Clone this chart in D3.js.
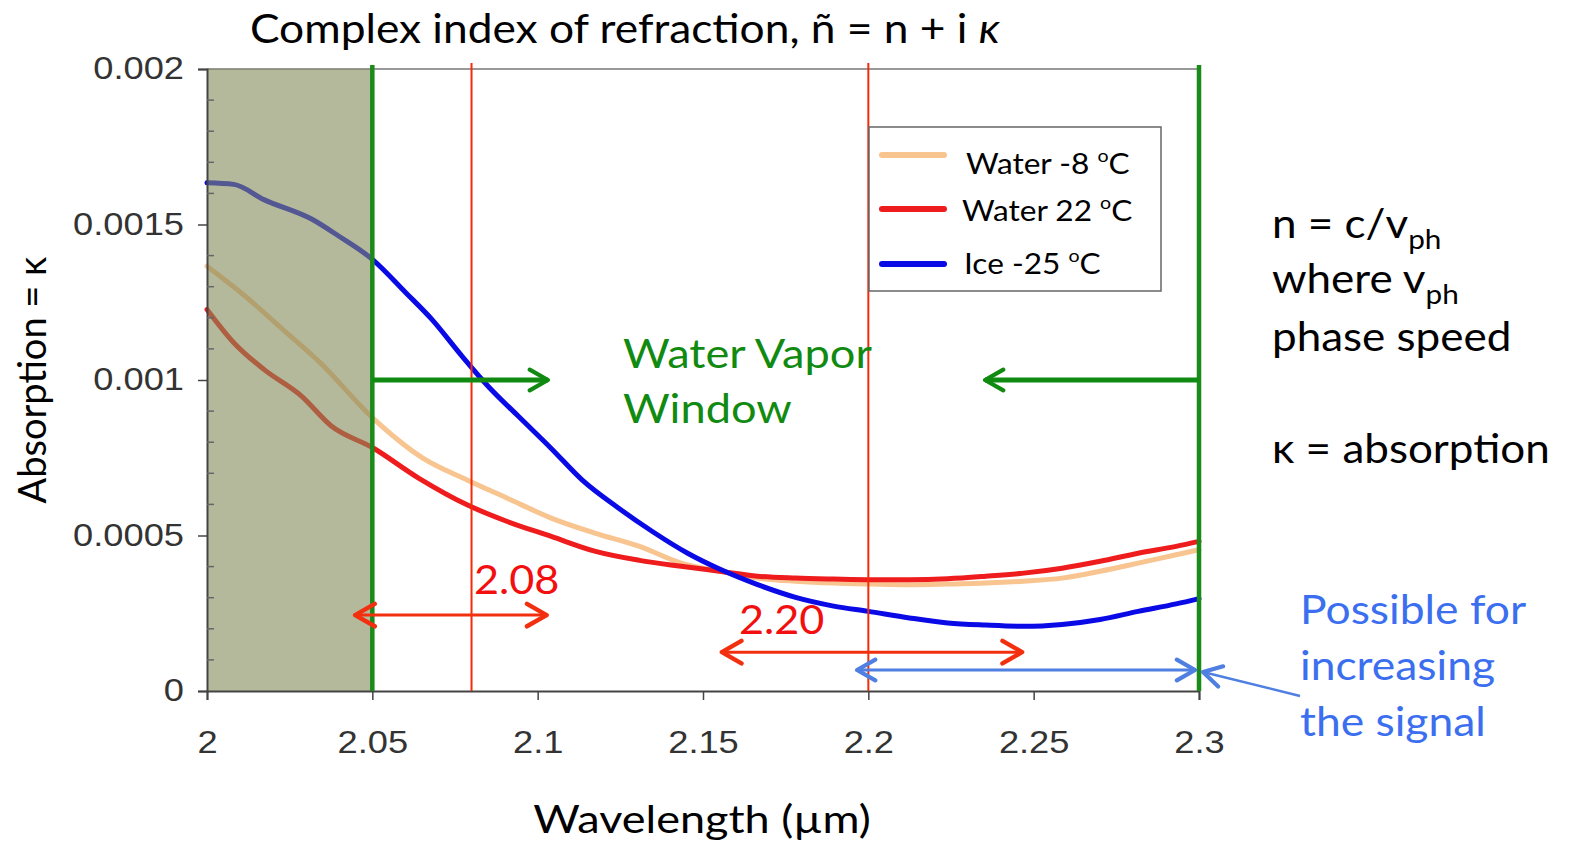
<!DOCTYPE html>
<html>
<head>
<meta charset="utf-8">
<script src="https://cdn.jsdelivr.net/npm/d3@7"></script>
<style>
  body { margin: 0; background: #fff; }
  svg { display: block; }
  .lato { font-family: Lato, "Open Sans", sans-serif; }
</style>
</head>
<body>
<svg id="chart" width="1580" height="849"></svg>
<script>
// Dados (comprimento de onda em µm, absorção κ)
const water8 = [
  [2.000, 0.001366], [2.0115, 0.00127], [2.0229, 0.001163], [2.0342, 0.001056],
  [2.050, 0.000879], [2.0654, 0.000748], [2.0788, 0.000678], [2.0908, 0.00062],
  [2.1041, 0.000556], [2.1175, 0.000507], [2.1308, 0.000465], [2.1434, 0.000411],
  [2.155, 0.000385], [2.1665, 0.000363], [2.178, 0.000353], [2.1895, 0.000347],
  [2.201, 0.000344], [2.2124, 0.000342], [2.224, 0.000344], [2.2355, 0.000347],
  [2.247, 0.000353], [2.2586, 0.000363], [2.2701, 0.000385], [2.2816, 0.000411],
  [2.2931, 0.000438], [2.300, 0.000454]
];
const water22 = [
  [2.000, 0.001227], [2.0081, 0.00112], [2.0172, 0.001034], [2.0285, 0.000949],
  [2.0376, 0.000852], [2.050, 0.000783], [2.0641, 0.000684], [2.0788, 0.000598],
  [2.0908, 0.000545], [2.1041, 0.000497], [2.1175, 0.000449], [2.1308, 0.000420],
  [2.1434, 0.000401], [2.155, 0.000385], [2.1665, 0.000369], [2.178, 0.000363],
  [2.1895, 0.00036], [2.201, 0.000358], [2.2124, 0.000358], [2.224, 0.000361],
  [2.2355, 0.000369], [2.247, 0.000379], [2.2586, 0.000395], [2.2701, 0.000417],
  [2.2816, 0.000443], [2.2931, 0.000465], [2.300, 0.000481]
];
const ice25 = [
  [2.000, 0.001634], [2.0081, 0.001629], [2.0172, 0.00158], [2.0319, 0.001516],
  [2.0398, 0.001463], [2.050, 0.001388], [2.0602, 0.00128], [2.068, 0.001195],
  [2.0771, 0.001077], [2.085, 0.00098], [2.0941, 0.000884], [2.1041, 0.00078],
  [2.1135, 0.000678], [2.1242, 0.000590], [2.1348, 0.000512], [2.1455, 0.000442],
  [2.155, 0.000392], [2.1665, 0.000342], [2.178, 0.000301], [2.1895, 0.000273],
  [2.200, 0.000256], [2.2124, 0.000235], [2.224, 0.000219], [2.2355, 0.000212],
  [2.247, 0.000208], [2.2586, 0.000214], [2.2701, 0.00023], [2.2816, 0.000256],
  [2.2931, 0.00028], [2.300, 0.000297]
];

const seriesNames = ['Water -8 ', 'Water 22 ', 'Ice -25 '];
const seriesColors = ['#f8c490', '#ee1c1c', '#0a0ae6'];
const seriesData = [water8, water22, ice25];

const xTicks = [2, 2.05, 2.1, 2.15, 2.2, 2.25, 2.3];
const xTickLabels = ['2', '2.05', '2.1', '2.15', '2.2', '2.25', '2.3'];
const yTicks = [0, 0.0005, 0.001, 0.0015, 0.002];
const yTickLabels = ['0', '0.0005', '0.001', '0.0015', '0.002'];

// Linhas verticais e setas (em unidades dos dados)
const greenLines = [2.05, 2.3];
const redLines = [2.08, 2.2];
const redArrows = [
  { x1: 2.0448, x2: 2.1027, y: 0.000244 },
  { x1: 2.1557, x2: 2.2465, y: 0.000125 }
];
const blueArrow = { x1: 2.1966, x2: 2.2988, y: 0.0000675 };
const greenArrows = [
  { x1: 2.05, x2: 2.1031, y: 0.001 },
  { x1: 2.3, x2: 2.2353, y: 0.001 }
];

const svg = d3.select('#chart');
const x = d3.scaleLinear().domain([2, 2.3]).range([207, 1199]);
const y = d3.scaleLinear().domain([0, 0.002]).range([691, 69]);

// Estica o texto na horizontal em torno do ponto de ancoragem
function estica(sel, s, ax) {
  sel.attr('transform', `translate(${ax},0) scale(${s},1) translate(${-ax},0)`);
}

// Marcadores de seta
const defs = svg.append('defs');
function marcador(id, cor, tam) {
  defs.append('marker')
    .attr('id', id)
    .attr('viewBox', '0 0 10 10')
    .attr('refX', 9).attr('refY', 5)
    .attr('markerUnits', 'userSpaceOnUse')
    .attr('markerWidth', tam).attr('markerHeight', tam)
    .attr('orient', 'auto-start-reverse')
    .append('path')
    .attr('d', 'M2,1 L9,5 L2,9')
    .attr('fill', 'none')
    .attr('stroke', cor)
    .attr('stroke-width', 1.6)
    .attr('stroke-linecap', 'round')
    .attr('stroke-linejoin', 'round');
}
marcador('seta-verde', '#118a11', 26);
marcador('seta-vermelha', '#f2300f', 28);
marcador('seta-azul', '#4f7fe0', 26);

// Linha superior do quadro
svg.append('line')
  .attr('x1', x(2)).attr('x2', x(2.3))
  .attr('y1', y(0.002)).attr('y2', y(0.002))
  .attr('stroke', '#999').attr('stroke-width', 2);

// Curvas
const linha = d3.line()
  .x(d => x(d[0]))
  .y(d => y(d[1]))
  .curve(d3.curveMonotoneX);

seriesData.forEach((s, i) => {
  svg.append('path')
    .datum(s)
    .attr('d', linha)
    .attr('fill', 'none')
    .attr('stroke', seriesColors[i])
    .attr('stroke-width', 5)
    .attr('stroke-linecap', 'round');
});

// Região sombreada 2.0 - 2.05
svg.append('rect')
  .attr('x', x(2)).attr('y', y(0.002))
  .attr('width', x(2.05) - x(2))
  .attr('height', y(0) - y(0.002))
  .attr('fill', '#848a5a')
  .attr('fill-opacity', 0.6);

// Eixo Y
const yAxis = d3.axisLeft(y).tickValues(yTicks)
  .tickFormat((d, i) => yTickLabels[i]).tickSize(9).tickPadding(14);
const gy = svg.append('g').attr('transform', `translate(${x(2)},0)`).call(yAxis);
gy.select('.domain').attr('stroke', '#444').attr('stroke-width', 2);
gy.selectAll('.tick line').attr('stroke', '#444').attr('stroke-width', 1.5);
gy.selectAll('.tick text')
  .attr('font-family', '"Liberation Sans", Arial, sans-serif')
  .attr('font-size', 31).attr('fill', '#333')
  .call(estica, 1.17, -23);

// Marcas menores do eixo Y
const minor = d3.range(1, 20).filter(k => k % 5 !== 0).map(k => k * 0.0001);
svg.append('g').selectAll('line').data(minor).enter().append('line')
  .attr('x1', x(2)).attr('x2', x(2) + 7)
  .attr('y1', d => y(d)).attr('y2', d => y(d))
  .attr('stroke', '#666').attr('stroke-width', 1.5);

// Eixo X
const xAxis = d3.axisBottom(x).tickValues(xTicks)
  .tickFormat((d, i) => xTickLabels[i]).tickSize(9).tickPadding(31);
const gx = svg.append('g').attr('transform', `translate(0,${y(0)})`).call(xAxis);
gx.select('.domain').attr('stroke', '#444').attr('stroke-width', 2);
gx.selectAll('.tick line').attr('stroke', '#444').attr('stroke-width', 1.5);
gx.selectAll('.tick text')
  .attr('font-family', '"Liberation Sans", Arial, sans-serif')
  .attr('font-size', 31).attr('fill', '#333')
  .call(estica, 1.17, 0);

// Linhas verticais verdes e vermelhas
svg.append('g').selectAll('line').data(greenLines).enter().append('line')
  .attr('x1', d => x(d)).attr('x2', d => x(d))
  .attr('y1', y(0.002) - 4).attr('y2', y(0))
  .attr('stroke', '#1a8a1a').attr('stroke-width', 4.5);

svg.append('g').selectAll('line').data(redLines).enter().append('line')
  .attr('x1', d => x(d)).attr('x2', d => x(d))
  .attr('y1', y(0.002) - 6).attr('y2', y(0))
  .attr('stroke', '#f52a0a').attr('stroke-width', 2);

// Setas verdes
svg.append('g').selectAll('line').data(greenArrows).enter().append('line')
  .attr('x1', d => x(d.x1)).attr('x2', d => x(d.x2))
  .attr('y1', d => y(d.y)).attr('y2', d => y(d.y))
  .attr('stroke', '#118a11').attr('stroke-width', 5)
  .attr('marker-end', 'url(#seta-verde)');

// Setas vermelhas duplas
svg.append('g').selectAll('line').data(redArrows).enter().append('line')
  .attr('x1', d => x(d.x1)).attr('x2', d => x(d.x2))
  .attr('y1', d => y(d.y)).attr('y2', d => y(d.y))
  .attr('stroke', '#f2300f').attr('stroke-width', 3)
  .attr('marker-start', 'url(#seta-vermelha)')
  .attr('marker-end', 'url(#seta-vermelha)');

// Seta azul dupla
svg.append('line')
  .attr('x1', x(blueArrow.x1)).attr('x2', x(blueArrow.x2))
  .attr('y1', y(blueArrow.y)).attr('y2', y(blueArrow.y))
  .attr('stroke', '#4f7fe0').attr('stroke-width', 3)
  .attr('marker-start', 'url(#seta-azul)')
  .attr('marker-end', 'url(#seta-azul)');

// Seta azul apontando para a linha verde
svg.append('line')
  .attr('x1', 1300).attr('y1', 696)
  .attr('x2', x(2.3) + 4).attr('y2', 672)
  .attr('stroke', '#4f7fe0').attr('stroke-width', 2.5)
  .attr('marker-end', 'url(#seta-azul)');

// Legenda
const leg = svg.append('g');
leg.append('rect')
  .attr('x', 869).attr('y', 127).attr('width', 292).attr('height', 164)
  .attr('fill', '#fff').attr('stroke', '#666').attr('stroke-width', 1.5);
const legY = [155, 209, 264];
const legTextX = [966, 962, 964];
const legTextY = [174, 221, 274];
seriesNames.forEach((nome, i) => {
  leg.append('line')
    .attr('x1', 882).attr('x2', 944)
    .attr('y1', legY[i]).attr('y2', legY[i])
    .attr('stroke', seriesColors[i]).attr('stroke-width', 6)
    .attr('stroke-linecap', 'round');
  const t = leg.append('text').attr('class', 'lato')
    .attr('x', legTextX[i]).attr('y', legTextY[i])
    .attr('font-size', 29).attr('fill', '#000')
    .call(estica, 1.09, legTextX[i]);
  t.append('tspan').text(nome);
  t.append('tspan').attr('font-size', 18).attr('dy', -12).text('o');
  t.append('tspan').attr('dy', 12).text('C');
});

// Título
const titulo = svg.append('text').attr('class', 'lato')
  .attr('x', 250).attr('y', 43).attr('font-size', 41).attr('fill', '#000')
  .call(estica, 1.08, 250);
titulo.append('tspan').text('Complex index of refraction, ñ = n + i ');
titulo.append('tspan').attr('font-style', 'italic').text('κ');

// Rótulos dos eixos
svg.append('text').attr('class', 'lato')
  .attr('transform', 'translate(46,380) rotate(-90)')
  .attr('text-anchor', 'middle').attr('font-size', 38).attr('fill', '#000')
  .text('Absorption = κ');

svg.append('text').attr('class', 'lato')
  .attr('x', 702).attr('y', 833)
  .attr('text-anchor', 'middle').attr('font-size', 38).attr('fill', '#000')
  .text('Wavelength (µm)')
  .call(estica, 1.185, 702);

// Texto Water Vapor Window
svg.append('text').attr('class', 'lato')
  .attr('x', 623).attr('y', 368).attr('font-size', 40).attr('fill', '#118a11')
  .text('Water Vapor').call(estica, 1.13, 623);
svg.append('text').attr('class', 'lato')
  .attr('x', 623).attr('y', 423).attr('font-size', 40).attr('fill', '#118a11')
  .text('Window').call(estica, 1.13, 623);

// Rótulos 2.08 e 2.20
svg.append('text').attr('class', 'lato')
  .attr('x', 474).attr('y', 594).attr('font-size', 40).attr('fill', '#f20f0f')
  .text('2.08').call(estica, 1.08, 474);
svg.append('text').attr('class', 'lato')
  .attr('x', 739).attr('y', 634).attr('font-size', 40).attr('fill', '#f20f0f')
  .text('2.20').call(estica, 1.08, 739);

// Texto da direita
function comSub(tx, ty, base, sub) {
  const t = svg.append('text').attr('class', 'lato')
    .attr('x', tx).attr('y', ty).attr('font-size', 40).attr('fill', '#000')
    .call(estica, 1.1, tx);
  t.append('tspan').text(base);
  if (sub) t.append('tspan').attr('font-size', 27).attr('dy', 11).text(sub);
}
comSub(1272, 238, 'n = c/v', 'ph');
comSub(1272, 293, 'where v', 'ph');
comSub(1272, 351, 'phase speed');
comSub(1272, 463, 'κ = absorption');

// Texto azul
const azul = ['Possible for', 'increasing', 'the signal'];
azul.forEach((s, i) => {
  svg.append('text').attr('class', 'lato')
    .attr('x', 1300).attr('y', 624 + i * 56)
    .attr('font-size', 40).attr('fill', '#3b6ff0')
    .text(s).call(estica, 1.11, 1300);
});
</script>
</body>
</html>
